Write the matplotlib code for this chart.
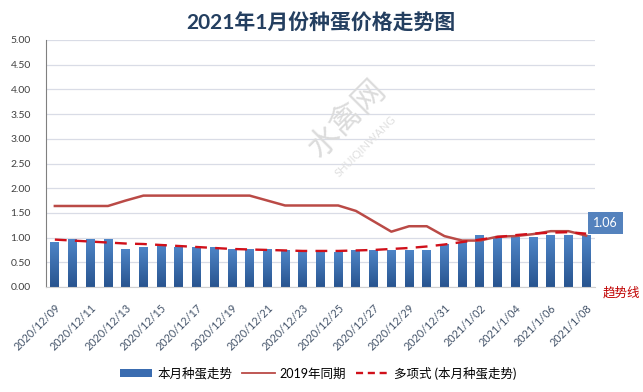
import numpy as np
import matplotlib
matplotlib.use('Agg')
import matplotlib.pyplot as plt
from matplotlib.colors import LinearSegmentedColormap
from matplotlib.patches import Patch
from matplotlib.lines import Line2D

plt.rcParams['font.family'] = ['Lato', 'Noto Sans CJK SC', 'DejaVu Sans']

# data
dates = ['2020/12/09', '2020/12/10', '2020/12/11', '2020/12/12', '2020/12/13',
         '2020/12/14', '2020/12/15', '2020/12/16', '2020/12/17', '2020/12/18',
         '2020/12/19', '2020/12/20', '2020/12/21', '2020/12/22', '2020/12/23',
         '2020/12/24', '2020/12/25', '2020/12/26', '2020/12/27', '2020/12/28',
         '2020/12/29', '2020/12/30', '2020/12/31', '2021/1/01', '2021/1/02',
         '2021/1/03', '2021/1/04', '2021/1/05', '2021/1/06', '2021/1/07',
         '2021/1/08']
this_month = [0.92, 0.97, 0.98, 0.97, 0.77, 0.81, 0.87, 0.81, 0.81, 0.81,
              0.76, 0.76, 0.76, 0.74, 0.72, 0.72, 0.70, 0.75, 0.75, 0.75,
              0.75, 0.75, 0.87, 0.92, 1.06, 1.01, 1.01, 1.01, 1.06, 1.06,
              1.06]
same_2019 = [1.64, 1.64, 1.64, 1.64, 1.75, 1.85, 1.85, 1.85, 1.85, 1.85,
             1.85, 1.85, 1.75, 1.65, 1.65, 1.65, 1.65, 1.54, 1.33, 1.12,
             1.23, 1.23, 1.03, 0.94, 0.94, 1.02, 1.03, 1.07, 1.13, 1.13,
             1.04]
trend = [0.96, 0.94, 0.92, 0.90, 0.88, 0.87, 0.85, 0.83, 0.81, 0.79,
         0.77, 0.76, 0.75, 0.74, 0.73, 0.73, 0.73, 0.74, 0.75, 0.77,
         0.79, 0.82, 0.86, 0.91, 0.96, 1.01, 1.05, 1.08, 1.10, 1.11,
         1.08]

x = np.arange(len(dates))

fig = plt.figure(figsize=(6.43, 3.92), dpi=100)
ax = fig.add_axes([46/643, 1-287/392, (595-46)/643, (287-40)/392])

# watermark
fig.text(347/643, 1-118/392, '水禽网', rotation=45, fontsize=23, color='#DCDCDC',
         ha='center', va='center', zorder=0)
fig.text(366/643, 1-146/392, 'SHUIQINWANG', rotation=45, fontsize=8, color='#E0E0E0',
         ha='center', va='center', zorder=0)

# bars with vertical gradient
cmap = LinearSegmentedColormap.from_list('bb', ['#28548F', '#4F86C8'])
grad = np.linspace(0, 1, 256).reshape(-1, 1)
bars = ax.bar(x, this_month, width=0.5, color='none', zorder=2)
for b in bars:
    bx, by = b.get_xy()
    im = ax.imshow(grad, extent=[bx, bx + b.get_width(), by, by + b.get_height()],
                   origin='lower', cmap=cmap, aspect='auto', zorder=2)
    im.set_clip_path(b)

ax.plot(x, same_2019, color='#BA4A46', lw=1.8, zorder=3)
ax.plot(x, trend, color='#D0101A', lw=1.7, dashes=(5, 3.5), zorder=4)

ax.set_xlim(-0.5, len(dates) - 0.5)
ax.set_ylim(0, 5)
ax.set_yticks(np.arange(0, 5.01, 0.5))
ax.set_yticklabels(['%.2f' % v for v in np.arange(0, 5.01, 0.5)], fontsize=7.5, color='#404040')
ax.grid(axis='y', color='#D9DCE6', lw=0.9, zorder=0)
ax.set_axisbelow(True)
ax.tick_params(axis='y', length=0, pad=11)
ax.set_xticks(x[::2])
ax.set_xticklabels(dates[::2], rotation=45, ha='right', rotation_mode='anchor',
                   fontsize=7.8, color='#44546A')
ax.tick_params(axis='x', length=0, pad=11)
for s in ['top', 'right']:
    ax.spines[s].set_visible(False)
ax.spines['left'].set_color('#808080')
ax.spines['bottom'].set_color('#D0D0D0')

# last value box
ax.text(len(dates) + 0.1, this_month[-1] + 0.24, '%.2f' % this_month[-1], fontsize=9,
        color='white', ha='center', va='center', zorder=5, clip_on=False,
        bbox=dict(boxstyle='square,pad=0.4', fc='#5482BD', ec='none'))

fig.text(621/643, 1-292/392, '趋势线', fontsize=9, color='#C00000', ha='center', va='center')

fig.text(321/643, 1-24/392, '2021年1月份种蛋价格走势图', fontsize=15, fontweight='bold',
         color='#243F60', ha='center', va='center')

handles = [Patch(facecolor='#3A6CB0', edgecolor='none'),
           Line2D([0], [0], color='#BA4A46', lw=1.3),
           Line2D([0], [0], color='#D0101A', lw=1.7, dashes=(3, 2))]
labels = ['本月种蛋走势', '2019年同期', '多项式 (本月种蛋走势)']
fig.legend(handles, labels, loc='center', bbox_to_anchor=(318/643, 1-373/392), ncol=3,
           frameon=False, fontsize=9, handlelength=2.6, handleheight=0.6,
           columnspacing=0.8, handletextpad=0.4)

fig.savefig('out.png', dpi=100)
